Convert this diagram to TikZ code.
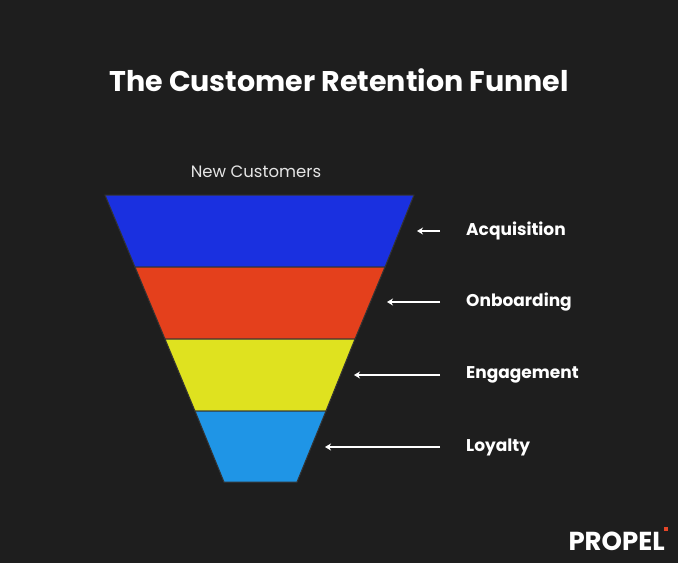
\documentclass[tikz,border=0pt]{standalone}
\usepackage{fontspec}
\usetikzlibrary{arrows.meta}
\setmainfont{Poppins}
\begin{document}
\begin{tikzpicture}[x=1pt,y=-1pt,
  band/.style={draw=black!80,line width=1pt},
  lab/.style={text=white,font=\fontsize{17}{20}\selectfont\bfseries,anchor=west,inner sep=0pt},
  arr/.style={draw=white,line width=1.4pt,-{Stealth[length=6pt,width=7pt]}}]
\fill[fill={rgb,255:red,30;green,30;blue,30}] (0,0) rectangle (678,563);
\useasboundingbox (0,0) rectangle (678,563);
\node[text=white,font=\fontsize{28.5}{32}\selectfont\bfseries] (title) at (339,80) {The Customer Retention Funnel};
\node[text=white!90!black,font=\fontsize{16.5}{19}\selectfont] (new) at (256,172) {New Customers};
\filldraw[band,fill={rgb,255:red,26;green,48;blue,224}] (105,195) -- (414,195) -- (385,267) -- (135,267) -- cycle;
\filldraw[band,fill={rgb,255:red,228;green,64;blue,28}] (135,267) -- (385,267) -- (355,339) -- (165,339) -- cycle;
\filldraw[band,fill={rgb,255:red,223;green,226;blue,31}] (165,339) -- (355,339) -- (326,411) -- (195,411) -- cycle;
\filldraw[band,fill={rgb,255:red,31;green,149;blue,230}] (195,411) -- (326,411) -- (297,482) -- (224,482) -- cycle;
\node[lab] (a) at (466,231) {Acquisition};
\node[lab] (o) at (466,302) {Onboarding};
\node[lab] (e) at (466,375) {Engagement};
\node[lab] (l) at (466,447) {Loyalty};
\coordinate (at) at (417,231); \coordinate (ot) at (387,302);
\coordinate (et) at (354,375); \coordinate (lt) at (325,447);
\draw[arr] (440,231) -- (at);
\draw[arr] (440,302) -- (ot);
\draw[arr] (440,375) -- (et);
\draw[arr] (440,447) -- (lt);
\node[text=white,font=\fontsize{26}{30}\selectfont\bfseries,anchor=east,inner sep=0pt] (logo) at (665,541) {PROPEL};
\fill[fill={rgb,255:red,230;green,70;blue,40}] (664,527) rectangle (668,531);
\end{tikzpicture}
\end{document}
